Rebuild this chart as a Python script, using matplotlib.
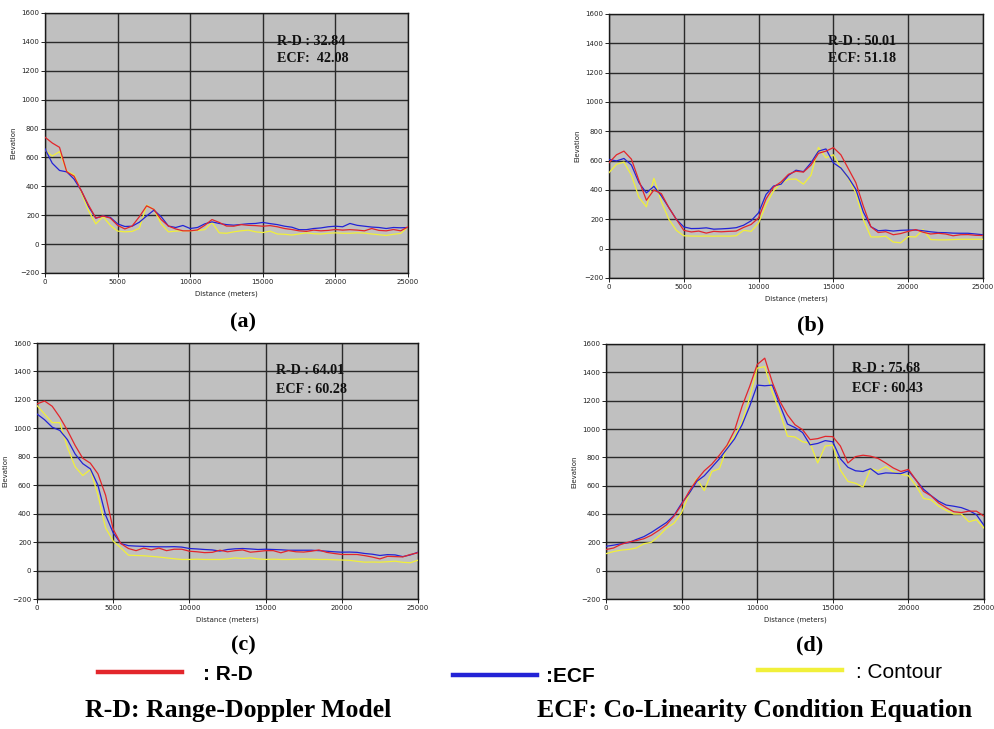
import matplotlib
matplotlib.use("Agg")
import matplotlib.pyplot as plt
from matplotlib import font_manager
from matplotlib.lines import Line2D

names = {f.name for f in font_manager.fontManager.ttflist}
if "Liberation Sans Narrow" in names:
    TICK_FONT, TICK_SIZE = "Liberation Sans Narrow", 6.3
else:
    TICK_FONT, TICK_SIZE = "DejaVu Sans", 5.0
SERIF = "Liberation Serif"
SANS = "Liberation Sans"

# ---------------- data (elevation in metres, every 500 m) ----------------
distance = list(range(0, 25001, 500))

a_rd = [740, 700, 670, 500, 470, 370, 270, 180, 195, 180, 130, 105, 125, 190, 265, 240, 170, 125, 105, 92,
        92, 98, 130, 170, 150, 125, 124, 135, 130, 128, 124, 128, 120, 108, 101, 92, 88, 97, 92, 95,
        101, 97, 100, 97, 92, 108, 95, 92, 101, 92, 120]
a_ecf = [660, 560, 510, 500, 450, 370, 260, 180, 195, 185, 140, 122, 124, 152, 195, 235, 190, 125, 115, 129,
         108, 115, 140, 154, 143, 135, 131, 136, 141, 143, 150, 142, 135, 124, 117, 100, 100, 108, 112, 120,
         124, 120, 143, 130, 124, 118, 115, 108, 115, 113, 115]
a_con = [650, 610, 640, 505, 480, 360, 230, 140, 190, 130, 90, 85, 88, 110, 270, 240, 140, 85, 90, 92,
         92, 95, 100, 150, 78, 75, 85, 92, 97, 85, 80, 90, 70, 68, 63, 70, 78, 72, 70, 75,
         78, 75, 75, 78, 76, 70, 65, 60, 68, 74, 120]

b_rd = [586, 640, 665, 610, 465, 330, 400, 375, 280, 200, 125, 114, 120, 106, 118, 115, 118, 120, 145, 165,
        210, 340, 420, 455, 507, 528, 522, 570, 650, 665, 689, 640, 545, 450, 290, 150, 110, 116, 95, 103,
        118, 130, 112, 100, 105, 100, 88, 95, 96, 91, 90]
b_ecf = [609, 598, 615, 570, 450, 380, 425, 360, 280, 200, 148, 137, 138, 142, 133, 135, 138, 143, 160, 190,
         245, 370, 427, 440, 500, 535, 525, 585, 665, 680, 585, 550, 485, 405, 250, 150, 122, 126, 120, 125,
         127, 127, 122, 115, 110, 109, 106, 105, 105, 100, 95]
b_con = [518, 575, 590, 500, 350, 285, 480, 320, 200, 125, 88, 86, 85, 86, 85, 86, 85, 88, 125, 118,
         175, 300, 395, 445, 473, 475, 440, 500, 690, 620, 640, 550, 480, 380, 200, 80, 80, 85, 45, 40,
         82, 80, 130, 62, 60, 60, 62, 64, 64, 64, 64]

c_rd = [1172, 1192, 1155, 1078, 985, 880, 790, 755, 680, 530, 290, 190, 155, 140, 158, 145, 158, 140, 150, 150,
        136, 132, 126, 128, 143, 132, 140, 145, 129, 134, 140, 140, 125, 140, 132, 130, 136, 145, 128, 120,
        113, 113, 113, 105, 95, 82, 100, 98, 96, 113, 125]
c_ecf = [1101, 1060, 1008, 985, 920, 820, 752, 715, 600, 390, 265, 190, 175, 172, 170, 168, 167, 167, 168, 165,
         155, 152, 148, 145, 137, 148, 153, 155, 152, 148, 150, 148, 146, 143, 143, 143, 143, 140, 136, 132,
         129, 130, 128, 120, 115, 106, 112, 110, 98, 110, 129]
c_con = [1160, 1100, 1040, 1040, 865, 730, 668, 710, 530, 300, 207, 160, 108, 106, 104, 100, 95, 89, 83, 78,
         78, 80, 78, 78, 78, 82, 89, 85, 89, 82, 78, 80, 78, 78, 80, 82, 80, 78, 78, 76,
         74, 72, 65, 59, 60, 59, 62, 66, 58, 55, 73]

d_rd = [149, 160, 186, 202, 212, 225, 250, 285, 324, 385, 465, 560, 640, 705, 752, 815, 885, 990, 1160, 1300,
        1455, 1500, 1330, 1195, 1100, 1030, 995, 925, 932, 948, 946, 880, 760, 805, 815, 808, 792, 760, 725, 700,
        715, 640, 560, 528, 478, 445, 416, 410, 420, 420, 385]
d_ecf = [172, 180, 190, 198, 220, 240, 270, 305, 340, 390, 475, 545, 630, 670, 730, 790, 860, 930, 1030, 1160,
         1310, 1305, 1310, 1170, 1035, 1010, 975, 888, 898, 918, 910, 790, 730, 705, 700, 720, 680, 690, 688, 685,
         705, 640, 575, 530, 490, 463, 455, 445, 425, 395, 320]
d_con = [120, 135, 145, 150, 160, 190, 200, 245, 300, 335, 410, 540, 650, 565, 700, 720, 870, 950, 1050, 1220,
         1430, 1440, 1260, 1120, 950, 944, 910, 900, 760, 880, 886, 710, 630, 617, 590, 720, 705, 734, 698, 680,
         670, 600, 510, 500, 455, 425, 400, 400, 345, 360, 300]

rmse_rd = ["32.84", "50.01", "64.01", "75.68"]
rmse_ecf = ["42.08", "51.18", "60.28", "60.43"]
ecf_sep = [":  ", ": ", " : ", " : "]
panel_labels = ["(a)", "(b)", "(c)", "(d)"]
x_ticks = [0, 5000, 10000, 15000, 20000, 25000]
y_ticks = [-200, 0, 200, 400, 600, 800, 1000, 1200, 1400, 1600]
legend_labels = [": R-D", ":ECF", ": Contour"]

# ---------------- styling ----------------
RED, BLUE, YELLOW = "#e3262b", "#2323d6", "#f1f03a"
W, H = 994, 729
fig = plt.figure(figsize=(W / 100, H / 100), dpi=100)
fig.patch.set_facecolor("white")

def px_rect(l, t, r, b):
    return [l / W, 1 - b / H, (r - l) / W, (b - t) / H]

rects = [px_rect(45, 13, 408, 273), px_rect(609, 14, 983, 278),
         px_rect(37, 343, 418, 599), px_rect(606, 344, 984, 599)]
series = [(a_rd, a_ecf, a_con), (b_rd, b_ecf, b_con), (c_rd, c_ecf, c_con), (d_rd, d_ecf, d_con)]
ann_pos = [(0.639, 0.890, 0.826), (0.586, 0.894, 0.831), (0.627, 0.891, 0.820), (0.651, 0.902, 0.827)]
label_pos = [(243, 322), (811, 325), (243, 645), (810, 645)]

for i in range(4):
    ax = fig.add_axes(rects[i])
    ax.set_facecolor("#c0c0c0")
    rd, ecf, con = series[i]
    ax.plot(distance, con, color=YELLOW, lw=0.9, zorder=3)
    ax.plot(distance, ecf, color=BLUE, lw=0.9, zorder=4)
    ax.plot(distance, rd, color=RED, lw=0.9, zorder=5)
    ax.set_xlim(0, 25000)
    ax.set_ylim(-200, 1600)
    ax.set_xticks(x_ticks)
    ax.set_yticks(y_ticks)
    ax.grid(True, color="#2a2a2a", lw=1.0, zorder=1)
    ax.set_axisbelow(True)
    for s in ax.spines.values():
        s.set_color("#1a1a1a")
        s.set_linewidth(1.0)
    ax.tick_params(length=3, width=0.7, pad=1, labelsize=TICK_SIZE, colors="#222222")
    for lab in ax.get_xticklabels() + ax.get_yticklabels():
        lab.set_family(TICK_FONT)
    ax.set_xlabel("Distance (meters)", fontsize=TICK_SIZE, family=TICK_FONT, labelpad=4, color="#222222")
    ax.set_ylabel("Elevation", fontsize=TICK_SIZE, family=TICK_FONT, labelpad=3, color="#222222")
    tx, ty1, ty2 = ann_pos[i]
    ax.text(tx, ty1, "R-D : " + rmse_rd[i], transform=ax.transAxes, family=SERIF, weight="bold",
            fontsize=10.2, va="center", ha="left", color="#111111", zorder=6)
    ax.text(tx, ty2, "ECF" + ecf_sep[i] + rmse_ecf[i], transform=ax.transAxes, family=SERIF, weight="bold",
            fontsize=10.2, va="center", ha="left", color="#111111", zorder=6)
    lx, ly = label_pos[i]
    fig.text(lx / W, 1 - ly / H, panel_labels[i], family=SERIF, weight="bold", fontsize=16,
             ha="center", va="center")

# ---------------- legend row ----------------
leg_specs = [(RED, legend_labels[0], 98, 674, "bold", 1.0),
             (BLUE, legend_labels[1], 453, 677, "bold", 0.45),
             (YELLOW, legend_labels[2], 758, 672, "normal", 0.7)]
for color, lab, x0, y0, wt, pad in leg_specs:
    h = Line2D([], [], color=color, lw=3.2)
    lg = fig.legend([h], [lab], loc="center left", bbox_to_anchor=(x0 / W - 0.008, 1 - y0 / H),
                    frameon=False, handlelength=4.0, handletextpad=pad, borderaxespad=0,
                    prop={"family": SANS, "size": 15, "weight": wt})

fig.text(238 / W, 1 - 710 / H, "R-D: Range-Doppler Model", family=SERIF, weight="bold",
         fontsize=18.5, ha="center", va="center")
fig.text(755 / W, 1 - 710 / H, "ECF: Co-Linearity Condition Equation", family=SERIF, weight="bold",
         fontsize=18.5, ha="center", va="center")

fig.savefig("out.png", dpi=100, facecolor="white")
